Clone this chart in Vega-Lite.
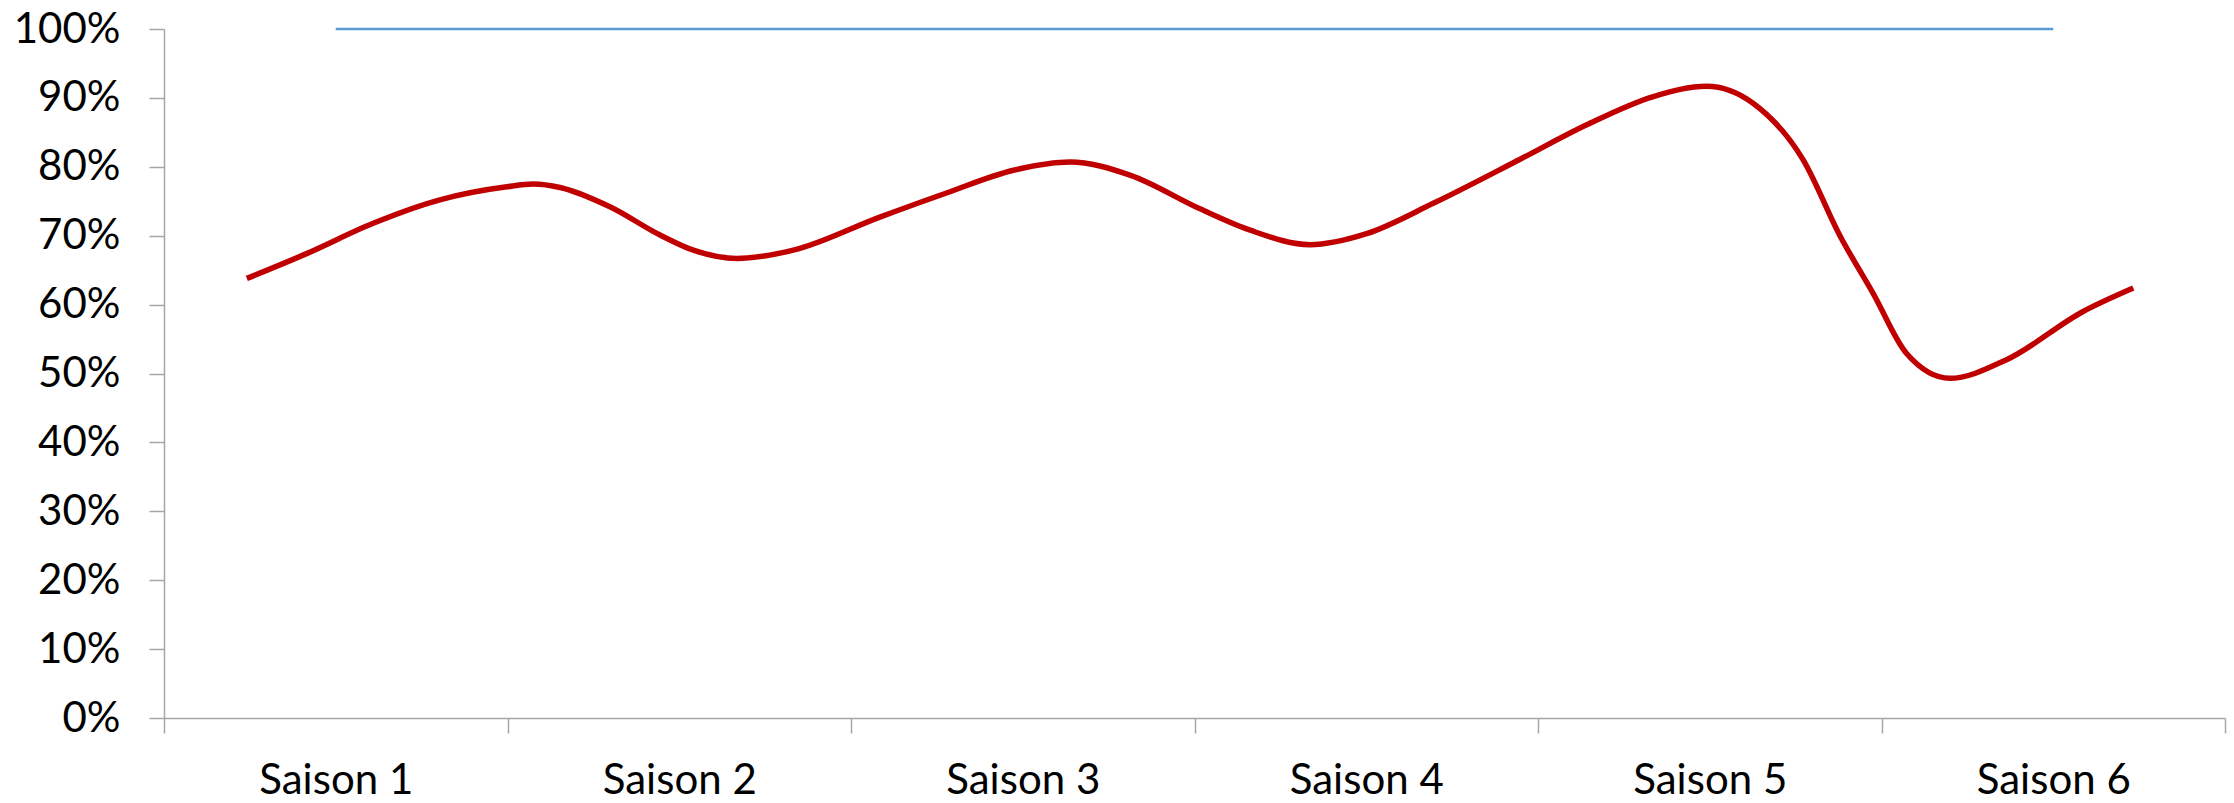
{
  "$schema": "https://vega.github.io/schema/vega-lite/v6.json",
  "width": 2061,
  "height": 689,
  "autosize": {"type": "none"},
  "padding": {"left": 164, "top": 29, "right": 9, "bottom": 85},
  "background": "white",
  "config": {
    "view": {"stroke": null},
    "font": "Lato",
    "axis": {
      "labelFont": "Lato",
      "labelFontSize": 42,
      "labelColor": "#000000",
      "domainColor": "#a6a6a6",
      "tickColor": "#a6a6a6",
      "domainWidth": 1.5,
      "tickWidth": 1.5,
      "tickSize": 15,
      "grid": false,
      "title": null
    }
  },
  "datasets": {
    "target": [
      {"saison": "Saison 1", "v": 1.0},
      {"saison": "Saison 2", "v": 1.0},
      {"saison": "Saison 3", "v": 1.0},
      {"saison": "Saison 4", "v": 1.0},
      {"saison": "Saison 5", "v": 1.0},
      {"saison": "Saison 6", "v": 1.0}
    ],
    "curve": [
      {"s": 0.741, "v": 0.638},
      {"s": 0.915, "v": 0.674},
      {"s": 1.109, "v": 0.718},
      {"s": 1.303, "v": 0.752},
      {"s": 1.498, "v": 0.771},
      {"s": 1.575, "v": 0.775},
      {"s": 1.653, "v": 0.770},
      {"s": 1.798, "v": 0.742},
      {"s": 1.944, "v": 0.701},
      {"s": 2.041, "v": 0.679},
      {"s": 2.167, "v": 0.667},
      {"s": 2.332, "v": 0.679},
      {"s": 2.584, "v": 0.727},
      {"s": 2.778, "v": 0.762},
      {"s": 2.973, "v": 0.795},
      {"s": 3.138, "v": 0.807},
      {"s": 3.312, "v": 0.788},
      {"s": 3.516, "v": 0.739},
      {"s": 3.662, "v": 0.708},
      {"s": 3.836, "v": 0.687},
      {"s": 4.001, "v": 0.703},
      {"s": 4.195, "v": 0.747},
      {"s": 4.448, "v": 0.811},
      {"s": 4.642, "v": 0.861},
      {"s": 4.836, "v": 0.902},
      {"s": 4.991, "v": 0.917},
      {"s": 5.127, "v": 0.892},
      {"s": 5.272, "v": 0.810},
      {"s": 5.379, "v": 0.700},
      {"s": 5.476, "v": 0.616},
      {"s": 5.573, "v": 0.529},
      {"s": 5.699, "v": 0.493},
      {"s": 5.864, "v": 0.520},
      {"s": 6.087, "v": 0.590},
      {"s": 6.233, "v": 0.624}
    ]
  },
  "layer": [
    {
      "data": {"name": "target"},
      "mark": {"type": "line", "color": "#5b9bd5", "strokeWidth": 2.5},
      "encoding": {
        "x": {
          "field": "saison",
          "type": "ordinal",
          "sort": null,
          "scale": {"type": "band", "paddingInner": 0, "paddingOuter": 0},
          "axis": {"tickBand": "extent", "labelAngle": 0, "labelPadding": 27, "labelBaseline": "top"}
        },
        "y": {
          "field": "v",
          "type": "quantitative",
          "scale": {"domain": [0, 1], "nice": false, "zero": true},
          "axis": {"values": [0, 0.1, 0.2, 0.3, 0.4, 0.5, 0.6, 0.7, 0.8, 0.9, 1.0], "format": ".0%", "labelPadding": 29}
        }
      }
    },
    {
      "data": {"name": "curve"},
      "mark": {"type": "line", "color": "#c00000", "strokeWidth": 5.5, "interpolate": "monotone", "strokeCap": "butt"},
      "encoding": {
        "x": {"field": "s", "type": "quantitative", "scale": {"domain": [0.5, 6.5], "nice": false, "zero": false}, "axis": null},
        "y": {"field": "v", "type": "quantitative"}
      }
    }
  ],
  "resolve": {"scale": {"x": "independent"}, "axis": {"x": "independent"}}
}
